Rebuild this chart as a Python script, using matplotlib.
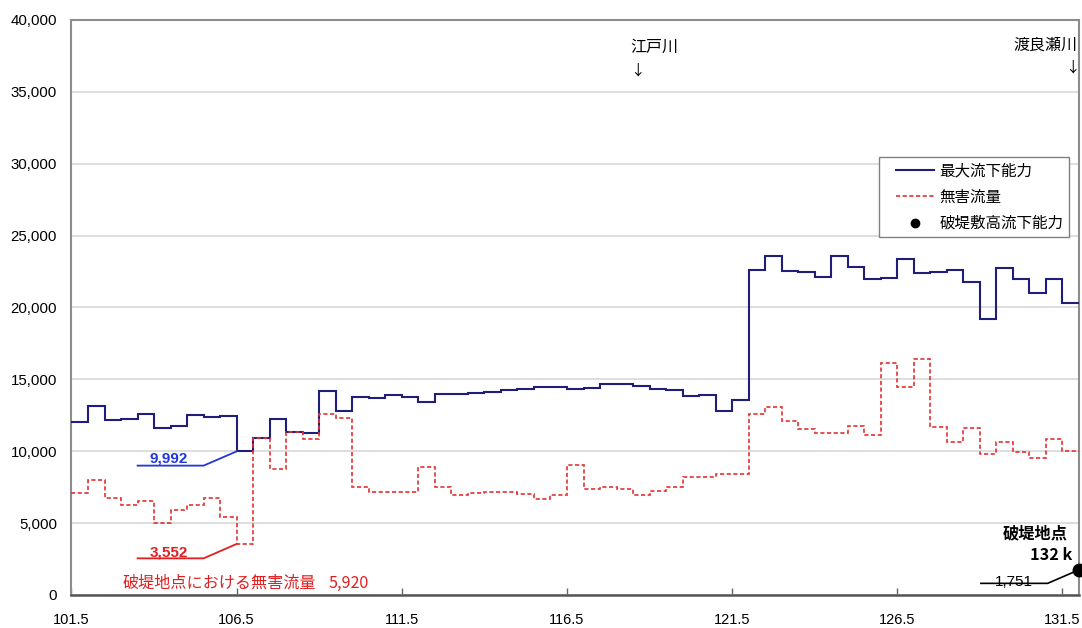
import numpy as np
import matplotlib
matplotlib.use("Agg")
import matplotlib.pyplot as plt
from matplotlib.lines import Line2D
from matplotlib.legend_handler import HandlerLine2D

plt.rcParams['font.family'] = ['Noto Sans CJK JP', 'DejaVu Sans']

# ---- data (km posts every 0.5 km, each value covers [km, km+0.5)) ----
km_start = 101.5
km_step = 0.5
max_capacity = [12000, 13150, 12170, 12240, 12610, 11640, 11730, 12500, 12410, 12480,
                9992, 10950, 12240, 11320, 11250, 14210, 12800, 13750, 13670, 13890,
                13800, 13450, 13960, 14010, 14030, 14130, 14280, 14350, 14480, 14480,
                14320, 14400, 14670, 14670, 14540, 14330, 14270, 13850, 13940, 12780,
                13590, 22610, 23580, 22560, 22450, 22120, 23580, 22840, 21960, 22070,
                23370, 22380, 22490, 22610, 21800, 19200, 22770, 21960, 20990, 21960,
                20290]
harmless_flow = [7120, 8000, 6770, 6260, 6560, 5030, 5910, 6260, 6720, 5450,
                 3552, 10900, 8740, 11320, 10850, 12570, 12290, 7540, 7140, 7170,
                 7170, 8930, 7540, 6960, 7070, 7160, 7160, 7050, 6660, 6980,
                 9030, 7360, 7540, 7370, 6990, 7200, 7540, 8230, 8230, 8410,
                 8410, 12570, 13100, 12100, 11520, 11290, 11290, 11780, 11130, 16160,
                 14490, 16420, 11710, 10620, 11590, 9790, 10670, 9920, 9510, 10830,
                 10040]
breach_km = 132.0
breach_capacity = 1751
label_km = 106.5
label_blue = 9992
label_red = 3552
harmless_at_breach = 5920
xticks = [101.5, 106.5, 111.5, 116.5, 121.5, 126.5, 131.5]
yticks = [0, 5000, 10000, 15000, 20000, 25000, 30000, 35000, 40000]

n = len(max_capacity)
edges = km_start + km_step * np.arange(n + 1)

fig = plt.figure(figsize=(10.82, 6.28), dpi=100)
ax = fig.add_axes([0.06608, 0.05255, 0.93115, 0.91561])

ax.set_xlim(km_start, breach_km)
ax.set_ylim(0, 40000)

ax.yaxis.grid(True, color='#d4d4d4', lw=1.1)
ax.set_axisbelow(True)

blue = '#1f1f7a'
red = '#e23232'
ax.stairs(max_capacity, edges, baseline=None, color=blue, lw=1.5, zorder=3)
ax.stairs(harmless_flow, edges, baseline=None, color=red, lw=1.2,
          linestyle=(0, (2.5, 1.5)), zorder=3)

ax.plot([breach_km], [breach_capacity], 'o', color='black', ms=9, clip_on=False, zorder=5)

# leader lines for annotations
ax.plot([103.5, 105.5, label_km], [9000, 9000, label_blue], color='#2238d8', lw=1.3, zorder=4)
ax.plot([103.5, 105.5, label_km], [2550, 2550, label_red], color='#e02020', lw=1.3, zorder=4)
ax.plot([129.03, 131.05, breach_km], [810, 810, breach_capacity], color='black', lw=1.2, zorder=4)

ax.text(104.45, 9230, f"{label_blue:,}", color='#2238d8', fontsize=11, fontweight='bold',
        family=['Liberation Sans'], ha='center', va='baseline')
ax.text(104.45, 2700, f"{label_red:,}", color='#e02020', fontsize=11, fontweight='bold',
        family=['Liberation Sans'], ha='center', va='baseline')
ax.text(103.06, 800, "破堤地点における無害流量", color='#e02020',
        fontsize=11.6, ha='left', va='center')
ax.text(109.27, 800, f"{harmless_at_breach:,}", color='#e02020',
        fontsize=11.6, ha='left', va='center')
ax.text(130.02, 880, f"{breach_capacity:,}", color='black', fontsize=11,
        family=['Liberation Sans'], ha='center', va='center')
ax.text(131.67, 4280, "破堤地点", color='black', fontsize=11.7, fontweight='bold',
        ha='right', va='center')
ax.text(131.79, 2780, "132 k", color='black', fontsize=11.7, fontweight='bold',
        ha='right', va='center')

ax.text(118.41, 38120, "江戸川", fontsize=11.5, ha='left', va='center')
ax.text(118.62, 36520, "↓", fontsize=10.5, ha='center', va='center')
ax.text(131.94, 38260, "渡良瀬川", fontsize=11.5, ha='right', va='center')
ax.text(131.79, 36660, "↓", fontsize=10.5, ha='center', va='center')

# ticks
ax.set_xticks(xticks)
ax.set_xticklabels([f"{t:.1f}" for t in xticks], family='Liberation Sans', fontsize=10.5)
ax.set_yticks(yticks)
ax.set_yticklabels([f"{t:,}" for t in yticks], family='Liberation Sans', fontsize=10.8)
ax.tick_params(axis='x', direction='in', length=5, width=1, color='#666666', pad=13)
ax.tick_params(axis='y', length=0, pad=10.5)

for s in ['left', 'top', 'right']:
    ax.spines[s].set_color('#8c8c8c')
    ax.spines[s].set_linewidth(1.5)
ax.spines['bottom'].set_color('#555555')
ax.spines['bottom'].set_linewidth(1.8)

handles = [Line2D([], [], color=blue, lw=1.5),
           Line2D([], [], color=red, lw=1.2, linestyle=(0, (2.5, 1.5))),
           Line2D([], [], color='black', marker='o', ms=6, lw=0)]
labels = ['最大流下能力', '無害流量', '破堤敷高流下能力']
leg = ax.legend(handles, labels, loc='upper right', bbox_to_anchor=(0.990, 0.762),
                borderaxespad=0, fancybox=False, framealpha=1, edgecolor='#808080',
                fontsize=11.2, handlelength=3.2, labelspacing=0.6, borderpad=0.35,
                handletextpad=0.35,
                handler_map={Line2D: HandlerLine2D(xpad=0.75)})
leg.get_frame().set_linewidth(1.0)

fig.savefig('out.png', dpi=100)
